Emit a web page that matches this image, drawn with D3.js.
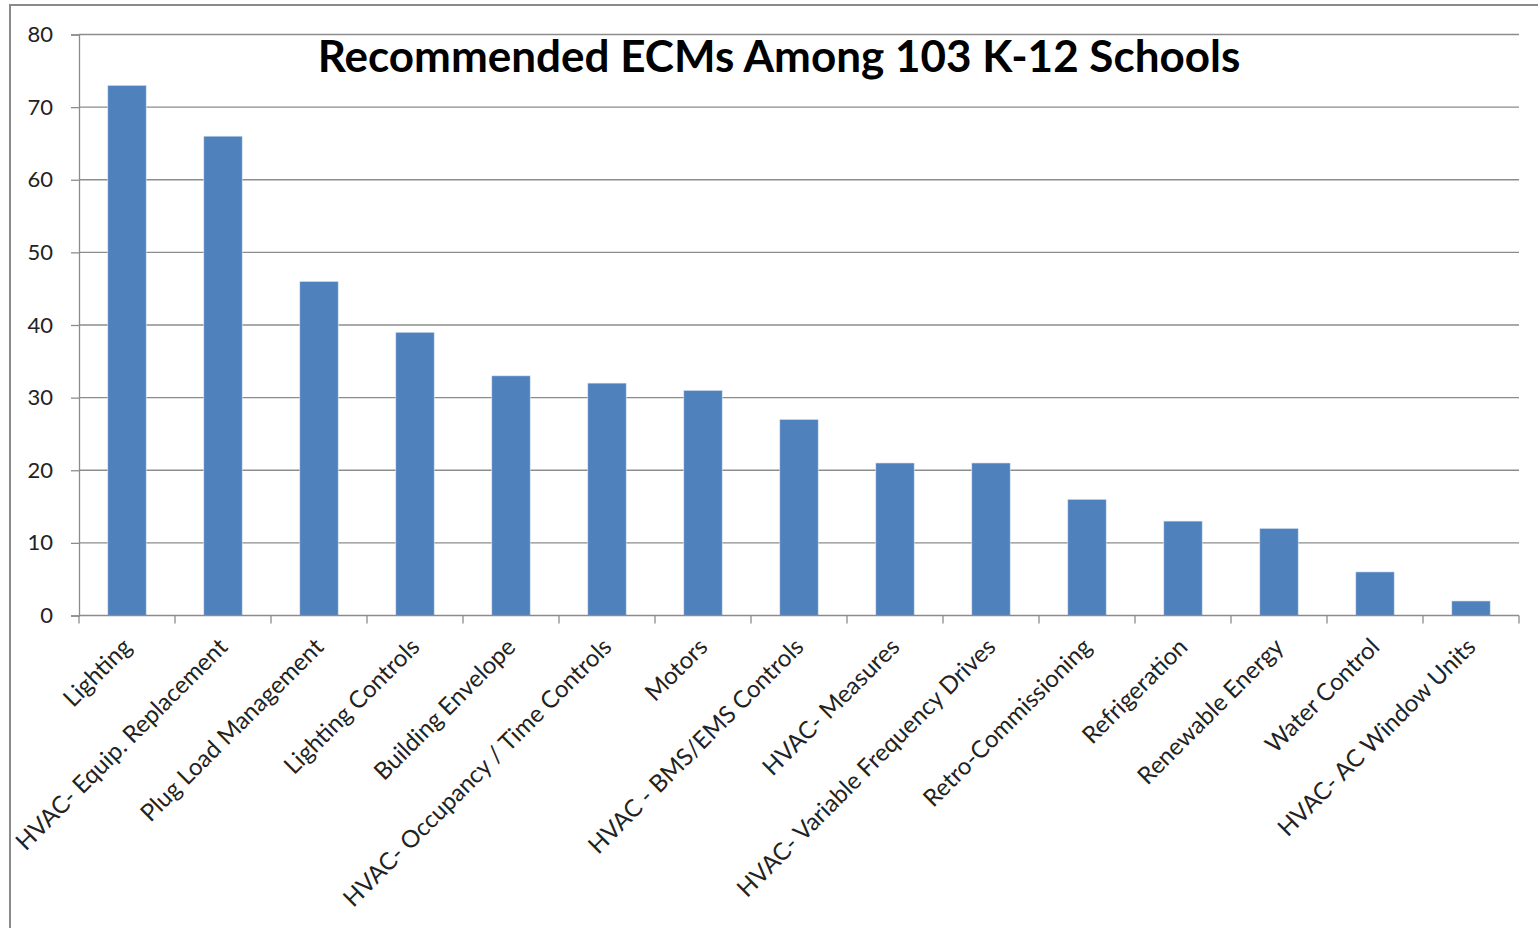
<!DOCTYPE html>
<html>
<head>
<meta charset="utf-8">
<script src="https://cdn.jsdelivr.net/npm/d3@7"></script>
<style>
  html, body { margin: 0; padding: 0; background: #fff; }
  svg { display: block; }
</style>
</head>
<body>
<svg id="chart" width="1538" height="928"></svg>
<script>
const categories = [
  "Lighting",
  "HVAC- Equip. Replacement",
  "Plug Load Management",
  "Lighting Controls",
  "Building Envelope",
  "HVAC- Occupancy / Time Controls",
  "Motors",
  "HVAC - BMS/EMS Controls",
  "HVAC- Measures",
  "HVAC- Variable Frequency Drives",
  "Retro-Commissioning",
  "Refrigeration",
  "Renewable Energy",
  "Water Control",
  "HVAC- AC Window Units"
];
const counts = [73, 66, 46, 39, 33, 32, 31, 27, 21, 21, 16, 13, 12, 6, 2];
const yTicks = [0, 10, 20, 30, 40, 50, 60, 70, 80];
const title = "Recommended ECMs Among 103 K-12 Schools";

const svg = d3.select("#chart");
const W = 1538, H = 928;
const plot = { left: 79, right: 1519, top: 34.5, bottom: 615.5 };

// outer frame (top and left edges visible)
svg.append("path")
  .attr("d", `M10,${H} L10,5 L${W},5`)
  .attr("fill", "none")
  .attr("stroke", "#8a8a8a")
  .attr("stroke-width", 2);

const x = d3.scaleBand().domain(categories).range([plot.left, plot.right]).padding(0);
const y = d3.scaleLinear().domain([0, 80]).range([plot.bottom, plot.top]);

// horizontal gridlines
svg.append("g").selectAll("line").data(yTicks.filter(d => d > 0)).join("line")
  .attr("x1", plot.left).attr("x2", plot.right)
  .attr("y1", d => y(d)).attr("y2", d => y(d))
  .attr("stroke", "#8c8c8c").attr("stroke-width", 1.3);

// bars (Excel-style gap width 150%)
const barW = x.bandwidth() / 2.5;
svg.append("g").selectAll("rect").data(counts).join("rect")
  .attr("x", (d, i) => x(categories[i]) + (x.bandwidth() - barW) / 2)
  .attr("y", d => y(d))
  .attr("width", barW)
  .attr("height", d => y(0) - y(d))
  .attr("fill", "#4f81bd")
  .attr("stroke", "#dce6f2")
  .attr("stroke-width", 0.6);

// y axis
const yAxis = d3.axisLeft(y).tickValues(yTicks).tickSize(8).tickPadding(18);
const gy = svg.append("g").attr("transform", `translate(${plot.left},0)`).call(yAxis);
gy.select(".domain").attr("stroke", "#8c8c8c").attr("stroke-width", 1.3);
gy.selectAll(".tick line").attr("stroke", "#8c8c8c").attr("stroke-width", 1.3);
gy.selectAll(".tick text")
  .attr("font-family", "Lato, 'Open Sans', sans-serif")
  .attr("font-size", 22)
  .attr("fill", "#222");

// x axis with ticks at category boundaries
const bounds = d3.range(categories.length + 1).map(i => plot.left + i * x.step());
const gx = svg.append("g");
gx.append("line")
  .attr("x1", plot.left).attr("x2", plot.right)
  .attr("y1", y(0)).attr("y2", y(0))
  .attr("stroke", "#8c8c8c").attr("stroke-width", 1.3);
gx.selectAll("line.tk").data(bounds).join("line").attr("class", "tk")
  .attr("x1", d => d).attr("x2", d => d)
  .attr("y1", y(0)).attr("y2", y(0) + 8)
  .attr("stroke", "#8c8c8c").attr("stroke-width", 1.3);

// rotated category labels
gx.selectAll("text").data(categories).join("text")
  .attr("transform", d => `translate(${x(d) + x.bandwidth() / 2 + 6},${y(0) + 33}) rotate(-45)`)
  .attr("text-anchor", "end")
  .attr("font-family", "Lato, 'Open Sans', sans-serif")
  .attr("font-size", 24)
  .attr("fill", "#222")
  .text(d => d);

// title
svg.append("text")
  .attr("x", 779).attr("y", 72)
  .attr("text-anchor", "middle")
  .attr("font-family", "Lato, 'Open Sans', sans-serif")
  .attr("font-weight", "bold")
  .attr("font-size", 44)
  .attr("fill", "#000")
  .text(title);
</script>
</body>
</html>
